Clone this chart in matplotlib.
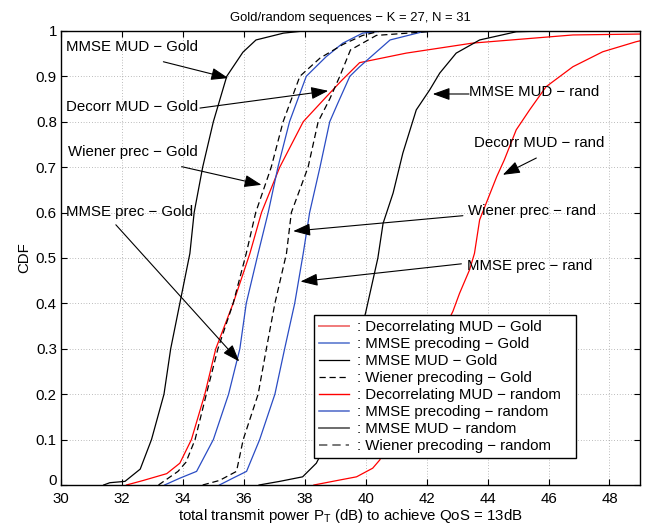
import matplotlib
matplotlib.use("Agg")
import matplotlib.pyplot as plt
from matplotlib.lines import Line2D
from matplotlib.transforms import ScaledTranslation

plt.rcParams['font.family'] = ['Liberation Sans', 'DejaVu Sans']
plt.rcParams['font.size'] = 10.8
plt.rcParams['mathtext.default'] = 'regular'

# ---- data: (power dB, CDF) ----
mmse_mud_gold_x = [31.4, 31.6, 32.1, 32.6, 32.97, 33.38, 33.6, 33.9, 34.23, 34.37, 34.65, 35.0, 35.44, 35.97, 36.4, 37.3, 38.0]
mmse_mud_gold_y = [0.0, 0.005, 0.008, 0.035, 0.1, 0.2, 0.3, 0.4, 0.51, 0.6, 0.7, 0.8, 0.9, 0.953, 0.98, 0.995, 1.0]

decorr_gold_x = [32.15, 32.7, 33.47, 33.9, 34.28, 34.72, 35.08, 35.65, 36.2, 36.58, 37.18, 37.95, 38.71, 39.2, 39.8, 41.33, 43.5, 46.8, 49.0]
decorr_gold_y = [0.0, 0.01, 0.025, 0.048, 0.1, 0.2, 0.3, 0.4, 0.51, 0.6, 0.7, 0.8, 0.855, 0.89, 0.93, 0.951, 0.973, 0.991, 0.993]

mmse_prec_gold_x = [33.4, 33.9, 34.45, 35.0, 35.5, 35.87, 36.08, 36.47, 36.8, 37.12, 37.5, 38.05, 38.7, 39.25, 39.9, 40.6]
mmse_prec_gold_y = [0.0, 0.015, 0.03, 0.1, 0.2, 0.3, 0.4, 0.51, 0.6, 0.7, 0.8, 0.9, 0.943, 0.973, 0.995, 1.0]

wiener_gold_x = [33.2, 33.84, 34.1, 34.4, 34.77, 35.15, 35.65, 36.08, 36.39, 36.9, 37.29, 37.84, 38.5, 39.25, 39.9, 40.5]
wiener_gold_y = [0.0, 0.03, 0.05, 0.1, 0.2, 0.3, 0.4, 0.51, 0.6, 0.7, 0.8, 0.9, 0.94, 0.97, 0.99, 1.0]

decorr_rand_x = [38.3, 39.15, 39.7, 40.23, 40.46, 41.5, 42.86, 43.08, 43.41, 43.57, 43.74, 44.3, 44.55, 44.94, 45.38, 45.92, 46.8, 47.78, 48.87, 49.0]
decorr_rand_y = [0.0, 0.011, 0.018, 0.037, 0.055, 0.2, 0.382, 0.422, 0.474, 0.51, 0.584, 0.679, 0.716, 0.782, 0.826, 0.877, 0.921, 0.954, 0.976, 0.978]

mmse_prec_rand_x = [35.2, 35.64, 36.09, 36.52, 37.02, 37.34, 37.67, 37.95, 38.16, 38.5, 38.82, 39.08, 39.48, 39.8, 40.8, 41.87, 42.5]
mmse_prec_rand_y = [0.0, 0.015, 0.03, 0.1, 0.2, 0.3, 0.4, 0.51, 0.6, 0.7, 0.8, 0.84, 0.9, 0.921, 0.98, 0.998, 1.0]

mmse_mud_rand_x = [36.5, 37.18, 37.93, 38.38, 38.6, 39.3, 40.0, 40.4, 40.57, 40.9, 41.22, 41.66, 42.1, 42.43, 42.97, 43.74, 44.94, 46.0]
mmse_mud_rand_y = [0.0, 0.008, 0.018, 0.048, 0.077, 0.2, 0.38, 0.5, 0.576, 0.643, 0.731, 0.826, 0.87, 0.907, 0.951, 0.98, 0.998, 1.0]

wiener_rand_x = [34.65, 35.2, 35.76, 35.98, 36.47, 36.74, 37.02, 37.4, 37.56, 38.11, 38.44, 38.82, 39.15, 39.5, 40.35, 42.4]
wiener_rand_y = [0.0, 0.01, 0.03, 0.1, 0.2, 0.3, 0.4, 0.51, 0.6, 0.7, 0.8, 0.85, 0.9, 0.958, 0.99, 1.0]

legend_labels = [": Decorrelating MUD \u2212 Gold", ": MMSE precoding \u2212 Gold", ": MMSE MUD \u2212 Gold",
                 ": Wiener precoding \u2212 Gold", ": Decorrelating MUD \u2212 random", ": MMSE precoding \u2212 random",
                 ": MMSE MUD \u2212 random", ": Wiener precoding \u2212 random"]

annotations = [
    ("MMSE MUD \u2212 Gold", (30.16, 0.965), (33.36, 0.932), (35.49, 0.896)),
    ("Decorr MUD \u2212 Gold", (30.16, 0.833), (34.56, 0.83), (38.77, 0.868)),
    ("Wiener prec \u2212 Gold", (30.23, 0.734), (33.96, 0.701), (36.58, 0.661)),
    ("MMSE prec \u2212 Gold", (30.16, 0.601), (31.8, 0.573), (35.85, 0.272)),
    ("MMSE MUD \u2212 rand", (43.39, 0.866), (43.39, 0.861), (42.2, 0.861)),
    ("Decorr MUD \u2212 rand", (43.55, 0.753), (45.6, 0.72), (44.5, 0.683)),
    ("Wiener prec \u2212 rand", (43.36, 0.604), (43.19, 0.593), (37.62, 0.559)),
    ("MMSE prec \u2212 rand", (43.34, 0.482), (43.14, 0.487), (37.86, 0.448)),
]

RED = '#ff0000'
BLUE = '#2a4cc4'
DASH = (5, 3)
LW = 0.9
FS = 10.8

fig = plt.figure(figsize=(6.49, 5.25), dpi=100)
ax = fig.add_axes([0.094, 0.0762, 0.892, 0.865])

ax.plot(mmse_mud_gold_x, mmse_mud_gold_y, color='black', lw=LW)
ax.plot(decorr_gold_x, decorr_gold_y, color=RED, lw=LW)
ax.plot(mmse_prec_gold_x, mmse_prec_gold_y, color=BLUE, lw=LW)
ax.plot(wiener_gold_x, wiener_gold_y, color='black', lw=LW, dashes=DASH)
ax.plot(decorr_rand_x, decorr_rand_y, color=RED, lw=LW)
ax.plot(mmse_prec_rand_x, mmse_prec_rand_y, color=BLUE, lw=LW)
ax.plot(mmse_mud_rand_x, mmse_mud_rand_y, color='black', lw=LW)
ax.plot(wiener_rand_x, wiener_rand_y, color='black', lw=LW, dashes=DASH)

for txt, tpos, a0, a1 in annotations:
    ax.text(tpos[0], tpos[1], txt, fontsize=FS, ha='left', va='center', zorder=5)
    ax.annotate("", xy=a1, xytext=a0,
                arrowprops=dict(arrowstyle='-|>,head_length=0.75,head_width=0.27', color='black',
                                lw=0.8, shrinkA=0, shrinkB=0, mutation_scale=14), zorder=5)

ax.set_xlim(30, 49)
ax.set_ylim(0, 1)
ax.set_xticks(range(30, 49, 2))
ax.set_yticks([i / 10 for i in range(11)])
ax.set_yticklabels(['0', '0.1', '0.2', '0.3', '0.4', '0.5', '0.6', '0.7', '0.8', '0.9', '1'])
ax.tick_params(direction='in', top=True, right=True, length=4, width=0.8, labelsize=FS, pad=3)
ax.tick_params(axis='x', pad=5)
ax.grid(True, color='#7f7f7f', lw=0.5, dashes=(1, 3))
for s in ax.spines.values():
    s.set_linewidth(1.0)

# lift the "0" y tick label a little so it sits above the "30" x tick label
for t in ax.yaxis.get_major_ticks()[:1]:
    t.label1.set_transform(t.label1.get_transform() + ScaledTranslation(0, 4 / 72, fig.dpi_scale_trans))

ax.set_title("Gold/random sequences \u2212 K = 27, N = 31", fontsize=9.4, pad=7)
ax.set_xlabel("total transmit power P$_{T}$ (dB) to achieve QoS = 13dB", fontsize=FS, labelpad=1)
ax.set_ylabel("CDF", fontsize=FS, labelpad=3)

handles = [
    Line2D([], [], color='#f07a7a', lw=1.4),
    Line2D([], [], color='#5c7ad0', lw=1.2),
    Line2D([], [], color='black', lw=0.9),
    Line2D([], [], color='black', lw=0.9, dashes=DASH),
    Line2D([], [], color=RED, lw=1.0),
    Line2D([], [], color='#4a66c8', lw=1.1),
    Line2D([], [], color='#606060', lw=1.3),
    Line2D([], [], color='#606060', lw=1.2, dashes=DASH),
]
leg = ax.legend(handles, legend_labels, loc='lower left', bbox_to_anchor=(0.437, 0.059, 0.4525, 0.32),
                mode='expand', fontsize=FS, frameon=True, fancybox=False, framealpha=1, edgecolor='black',
                handlelength=2.0, handletextpad=0.5, labelspacing=0.2, borderpad=0.35,
                borderaxespad=0)
leg.get_frame().set_linewidth(1.0)
leg.set_zorder(6)

fig.savefig("out.png", dpi=100)
